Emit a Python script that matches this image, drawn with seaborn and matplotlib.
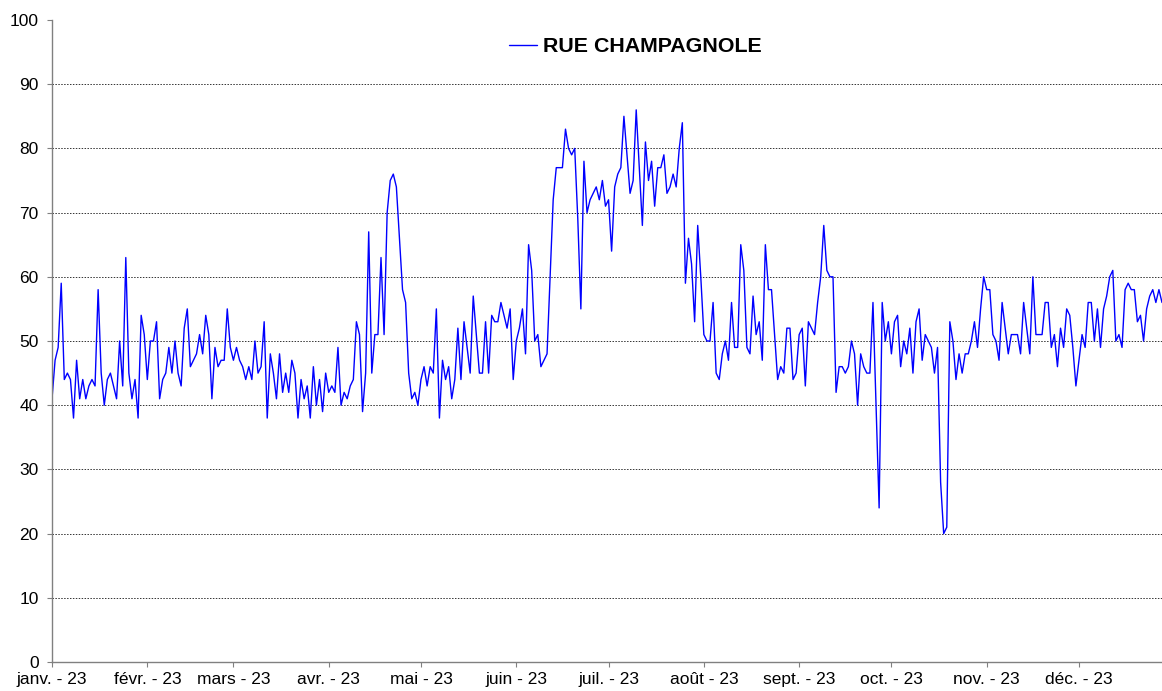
import pandas as pd
import matplotlib.pyplot as plt
import seaborn as sns

# valeurs journalières (1er janv. -> 28 déc. 2023)
janv = [41, 47, 49, 59, 44, 45, 44, 38, 47, 41, 44, 41, 43, 44, 43, 58, 45, 40, 44, 45,
        43, 41, 50, 43, 63, 45, 41, 44, 38, 54, 51]
fevr = [44, 50, 50, 53, 41, 44, 45, 49, 45, 50, 45, 43, 52, 55, 46, 47, 48, 51, 48, 54,
        51, 41, 49, 46, 47, 47, 55, 49]
mars = [47, 49, 47, 46, 44, 46, 44, 50, 45, 46, 53, 38, 48, 45, 41, 48, 42, 45, 42, 47,
        45, 38, 44, 41, 43, 38, 46, 40, 44, 39, 45]
avr = [42, 43, 42, 49, 40, 42, 41, 43, 44, 53, 51, 39, 45, 67, 45, 51, 51, 63, 51, 70,
       75, 76, 74, 66, 58, 56, 45, 41, 42, 40]
mai = [44, 46, 43, 46, 45, 55, 38, 47, 44, 46, 41, 44, 52, 44, 53, 49, 45, 57, 51, 45,
       45, 53, 45, 54, 53, 53, 56, 54, 52, 55, 44]
juin = [50, 52, 55, 48, 65, 61, 50, 51, 46, 47, 48, 60, 72, 77, 77, 77, 83, 80, 79, 80,
        69, 55, 78, 70, 72, 73, 74, 72, 75, 71]
juil = [72, 64, 74, 76, 77, 85, 79, 73, 75, 86, 77, 68, 81, 75, 78, 71, 77, 77, 79, 73,
        74, 76, 74, 80, 84, 59, 66, 62, 53, 68, 60]
aout = [51, 50, 50, 56, 45, 44, 48, 50, 47, 56, 49, 49, 65, 61, 49, 48, 57, 51, 53, 47,
        65, 58, 58, 51, 44, 46, 45, 52, 52, 44, 45]
sept = [51, 52, 43, 53, 52, 51, 56, 60, 68, 61, 60, 60, 42, 46, 46, 45, 46, 50, 48, 40,
        48, 46, 45, 45, 56, 40, 24, 56, 50, 53]
octo = [48, 53, 54, 46, 50, 48, 52, 45, 53, 55, 47, 51, 50, 49, 45, 49, 28, 20, 21, 53,
        50, 44, 48, 45, 48, 48, 50, 53, 49, 55, 60]
nov = [58, 58, 51, 50, 47, 56, 52, 48, 51, 51, 51, 48, 56, 52, 48, 60, 51, 51, 51, 56,
       56, 49, 51, 46, 52, 49, 55, 54, 49, 43]
dec = [47, 51, 49, 56, 56, 50, 55, 49, 55, 57, 60, 61, 50, 51, 49, 58, 59, 58, 58, 53,
       54, 50, 55, 57, 58, 56, 58, 56]

valeurs = janv + fevr + mars + avr + mai + juin + juil + aout + sept + octo + nov + dec
dates = pd.date_range('2023-01-01', periods=len(valeurs), freq='D')

mois = pd.date_range('2023-01-01', '2023-12-01', freq='MS')
etiquettes = ['janv. - 23', 'févr. - 23', 'mars - 23', 'avr. - 23', 'mai - 23', 'juin - 23',
              'juil. - 23', 'août - 23', 'sept. - 23', 'oct. - 23', 'nov. - 23', 'déc. - 23']

df = pd.DataFrame({'Date': dates, 'Valeur': valeurs})

sns.set_style('white')
plt.rcParams['font.family'] = ['Liberation Sans', 'DejaVu Sans']
plt.rcParams['text.color'] = 'black'

fig = plt.figure(figsize=(11.62, 6.91), dpi=100)
ax = fig.add_axes([52 / 1162, 29 / 691, 1110 / 1162, 642 / 691])

sns.lineplot(data=df, x='Date', y='Valeur', color='#0000ff', linewidth=1.0,
             label='RUE CHAMPAGNOLE', ax=ax)

ax.set_xlim(dates[0], dates[-1])
ax.set_ylim(0, 100)
ax.set_yticks(range(0, 101, 10))
ax.set_xticks(mois)
ax.set_xticklabels(etiquettes)
ax.set_xlabel('')
ax.set_ylabel('')

ax.yaxis.grid(True, color='#333333', linestyle=(0, (1.5, 1.5)), linewidth=0.7)
ax.get_ygridlines()[-1].set_visible(False)
ax.get_ygridlines()[0].set_visible(False)

for s in ['top', 'right']:
    ax.spines[s].set_visible(False)
for s in ['left', 'bottom']:
    ax.spines[s].set_color('#808080')
    ax.spines[s].set_linewidth(1.0)

ax.tick_params(axis='both', bottom=True, left=True, direction='out', length=3.6,
               width=0.8, color='#808080', labelsize=12.5, labelcolor='black')
ax.tick_params(axis='y', pad=6)
ax.tick_params(axis='x', pad=3.5)

ax.legend(loc='center', bbox_to_anchor=(0.5255, 0.958), frameon=False,
          prop={'weight': 'bold', 'size': 15.4}, handlelength=1.3, handletextpad=0.3,
          labelcolor='black')

plt.savefig('out.png', dpi=100)
